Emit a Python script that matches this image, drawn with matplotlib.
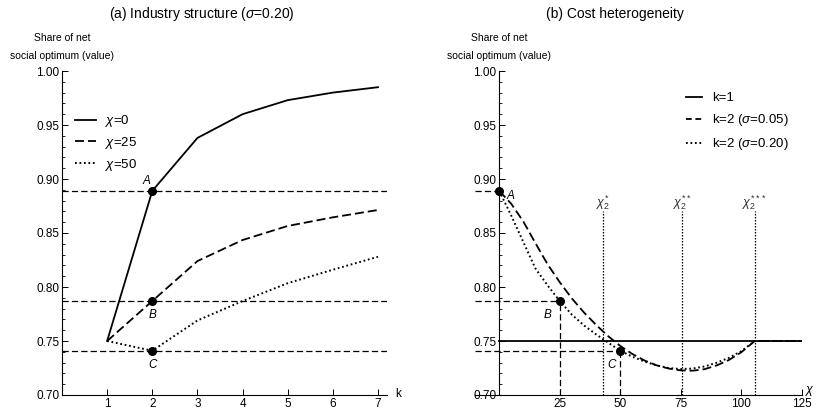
import matplotlib
matplotlib.use("Agg")
import matplotlib.pyplot as plt
from matplotlib.ticker import MultipleLocator
import matplotlib.transforms as mtransforms

plt.rcParams['font.family'] = ['Liberation Sans', 'DejaVu Sans']
plt.rcParams['mathtext.fontset'] = 'custom'
plt.rcParams['mathtext.rm'] = 'Liberation Sans'
plt.rcParams['mathtext.it'] = 'Liberation Sans:italic'
plt.rcParams['mathtext.bf'] = 'Liberation Sans:bold'

# ---------------- data: panel (a) ----------------
k_values = [1, 2, 3, 4, 5, 6, 7]
share_chi0 = [0.750, 0.889, 0.938, 0.960, 0.973, 0.980, 0.985]
share_chi25 = [0.750, 0.787, 0.824, 0.8435, 0.8565, 0.8645, 0.8713]
share_chi50 = [0.750, 0.741, 0.769, 0.787, 0.8035, 0.816, 0.828]
legend_a = [r"$\chi$=0", r"$\chi$=25", r"$\chi$=50"]
point_labels = ["A", "B", "C"]
point_k = 2
point_values = [0.889, 0.787, 0.741]

# ---------------- data: panel (b) ----------------
chi_grid = [0, 5, 10, 15, 20, 25, 30, 35, 40, 45, 50, 55, 60, 65, 70, 75,
            80, 85, 90, 95, 100, 105.6, 125]
share_k2_s005 = [0.889, 0.877, 0.8605, 0.8405, 0.821, 0.8045, 0.7895, 0.7765,
                 0.765, 0.7545, 0.7455, 0.738, 0.732, 0.7275, 0.7245, 0.7228,
                 0.7225, 0.724, 0.7275, 0.7325, 0.7395, 0.750, 0.750]
share_k2_s020 = [0.889, 0.866, 0.8415, 0.817, 0.8015, 0.787, 0.7745, 0.7645,
                 0.7562, 0.7485, 0.741, 0.7355, 0.731, 0.7275, 0.725, 0.724,
                 0.7245, 0.7265, 0.730, 0.7345, 0.7405, 0.750, 0.750]
chi_k1 = [0, 125]
share_k1 = [0.75, 0.75]
legend_b = ["k=1", r"k=2 ($\sigma$=0.05)", r"k=2 ($\sigma$=0.20)"]
point_chi = [0, 25, 50]
threshold_chi = [43.0, 75.7, 105.6]
threshold_labels = [r"$\chi_2^{*}$", r"$\chi_2^{**}$", r"$\chi_2^{***}$"]
threshold_top = 0.870

W, H = 816, 411
fig = plt.figure(figsize=(W / 100, H / 100), dpi=100)

def px_axes(x0, x1, y_top, y_bot):
    return fig.add_axes([x0 / W, 1 - y_bot / H, (x1 - x0) / W, (y_bot - y_top) / H])

axA = px_axes(62, 387, 71, 395)
axB = px_axes(475, 801.7, 71, 395)

dash_curve = (0, (5, 2.2))
dot_curve = (0, (0.9, 1.4))
dash_ref = (0, (5, 2.5))

def style_axes(ax):
    for s in ['top', 'right']:
        ax.spines[s].set_visible(False)
    for s in ['left', 'bottom']:
        ax.spines[s].set_linewidth(0.8)
    ax.set_ylim(0.70, 1.00)
    ax.yaxis.set_major_locator(MultipleLocator(0.05))
    ax.yaxis.set_minor_locator(MultipleLocator(0.01))
    ax.yaxis.set_major_formatter(plt.FormatStrFormatter('%.2f'))
    ax.tick_params(axis='both', which='major', direction='in', length=4, width=0.7,
                   labelsize=8.5, pad=2)
    ax.tick_params(axis='y', which='minor', direction='in', length=2.5, width=0.6)
    ax.tick_params(axis='x', which='minor', length=0)
    ax.patch.set_alpha(0)

# ---------------- panel (a) ----------------
ax = axA
style_axes(ax)
ax.set_xlim(0, 7.2)
ax.set_xticks(k_values)
for v in point_values:
    ax.axhline(v, color='black', lw=0.9, linestyle=dash_ref, zorder=1)
l0, = ax.plot(k_values, share_chi0, color='black', lw=1.3, zorder=3)
l1, = ax.plot(k_values, share_chi25, color='black', lw=1.3, linestyle=dash_curve, zorder=3)
l2, = ax.plot(k_values, share_chi50, color='black', lw=1.4, linestyle=dot_curve, zorder=3)
ax.plot([point_k] * 3, point_values, 'o', color='black', ms=5.5, zorder=4)
offsets_a = [(-4, 7), (0, -10), (0, -10)]
for lab, v, off in zip(point_labels, point_values, offsets_a):
    ax.annotate(lab, (point_k, v), xytext=off, textcoords='offset points',
                ha='center', va='center', fontsize=8.5, style='italic')
ax.legend([l0, l1, l2], legend_a, loc='upper left', bbox_to_anchor=(0.04, 0.87),
          frameon=False, fontsize=9.5, handlelength=1.6, handletextpad=0.7,
          labelspacing=0.45, borderaxespad=0, borderpad=0)
ax.annotate("k", (1.0, 0.0), xycoords='axes fraction', xytext=(8, 1),
            textcoords='offset points', fontsize=8.5, ha='center', va='center')

# ---------------- panel (b) ----------------
ax = axB
style_axes(ax)
ax.set_xlim(-10, 125)
ax.spines['left'].set_position(('data', 0))
ax.set_xticks([25, 50, 75, 100, 125])
for c, v in zip(point_chi, point_values):
    ax.hlines(v, -10, c, color='black', lw=0.9, linestyle=dash_ref, zorder=1)
for c, v in zip(point_chi[1:], point_values[1:]):
    ax.vlines(c, 0.70, v, color='black', lw=0.9, linestyle=(0, (5, 2.5)), zorder=1)
for c, lab in zip(threshold_chi, threshold_labels):
    ax.vlines(c, 0.70, threshold_top, color='black', lw=0.9, linestyle=(0, (1.2, 1.2)),
              zorder=1)
    ax.annotate(lab, (c, threshold_top), xytext=(0, 6.5), textcoords='offset points',
                ha='center', va='center', fontsize=9, color='#333333')
m0, = ax.plot(chi_k1, share_k1, color='black', lw=1.3, zorder=3)
m1, = ax.plot(chi_grid, share_k2_s005, color='black', lw=1.3, linestyle=dash_curve, zorder=3)
m2, = ax.plot(chi_grid, share_k2_s020, color='black', lw=1.4, linestyle=dot_curve, zorder=3)
ax.plot(point_chi, point_values, 'o', color='black', ms=5.5, zorder=4, clip_on=False)
offsets_b = [(8, -4), (-9, -10), (-6, -10)]
for lab, c, v, off in zip(point_labels, point_chi, point_values, offsets_b):
    ax.annotate(lab, (c, v), xytext=off, textcoords='offset points',
                ha='center', va='center', fontsize=8.5, style='italic')
legend_handles_b = [m0,
                    plt.Line2D([], [], color='black', lw=1.3, linestyle=(0, (3.2, 2))),
                    m2]
ax.legend(legend_handles_b, legend_b, loc='upper left', bbox_to_anchor=(0.645, 0.935),
          frameon=False, fontsize=9.5, handlelength=1.2, handletextpad=0.8,
          labelspacing=0.6, borderaxespad=0, borderpad=0)
ax.annotate(r"$\chi$", (1.0, 0.0), xycoords='axes fraction', xytext=(6, 3),
            textcoords='offset points', fontsize=9, ha='center', va='center')

# axis captions above y axes
for a in (axA, axB):
    trans = mtransforms.blended_transform_factory(a.transData, a.transAxes)
    a.annotate("Share of net", (0, 1.0), xycoords=trans, xytext=(0, 24),
               textcoords='offset points', ha='center', va='center', fontsize=7.5)
    a.annotate("social optimum (value)", (0, 1.0), xycoords=trans, xytext=(0, 10.5),
               textcoords='offset points', ha='center', va='center', fontsize=7.5)

fig.text(202 / W, 1 - 14 / H, r"(a) Industry structure ($\sigma$=0.20)",
         ha='center', va='center', fontsize=10)
fig.text(615 / W, 1 - 14 / H, "(b) Cost heterogeneity", ha='center', va='center',
         fontsize=10)

fig.savefig("out.png", dpi=100)
